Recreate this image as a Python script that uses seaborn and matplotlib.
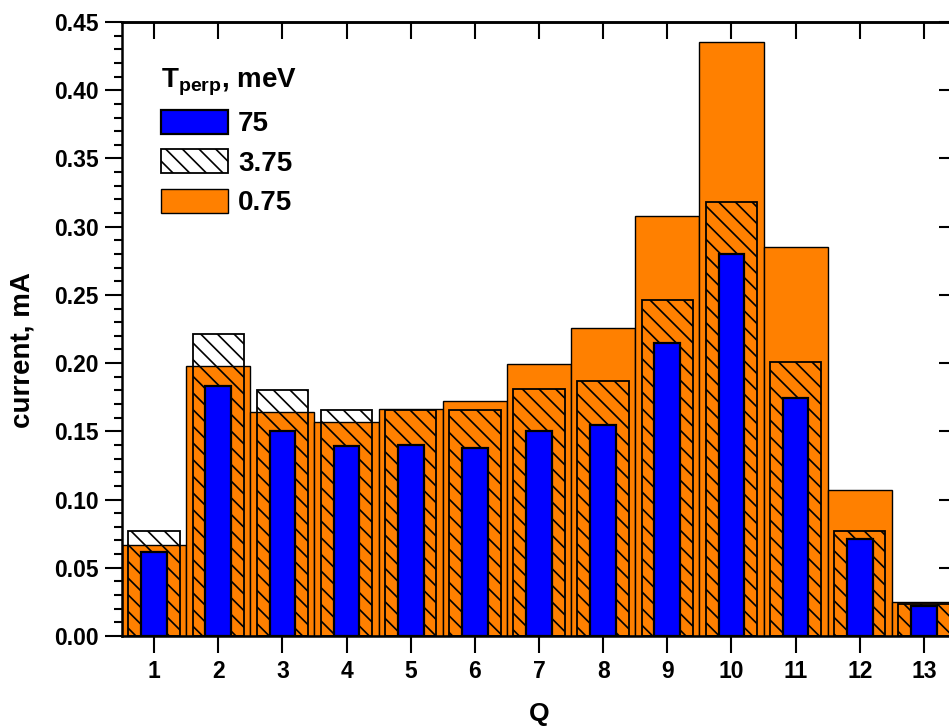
import matplotlib
matplotlib.use("Agg")
import matplotlib.pyplot as plt
import seaborn as sns
import pandas as pd
from matplotlib.ticker import MultipleLocator, FormatStrFormatter

# charge state
Q = [1, 2, 3, 4, 5, 6, 7, 8, 9, 10, 11, 12, 13]
# current, mA for each T_perp
cur_075 = [0.067, 0.198, 0.164, 0.157, 0.1665, 0.1725, 0.199, 0.226, 0.308, 0.435, 0.285, 0.107, 0.0247]
cur_375 = [0.077, 0.2215, 0.180, 0.166, 0.166, 0.1655, 0.181, 0.187, 0.2465, 0.318, 0.201, 0.077, 0.0232]
cur_75 = [0.0616, 0.1835, 0.1505, 0.1395, 0.140, 0.138, 0.150, 0.155, 0.215, 0.280, 0.1745, 0.071, 0.022]
labels = ["75", "3.75", "0.75"]

sns.set_style("white")
plt.rcParams['font.family'] = ['Liberation Sans', 'DejaVu Sans']
plt.rcParams['font.weight'] = 'bold'
plt.rcParams['mathtext.fontset'] = 'custom'
plt.rcParams['mathtext.rm'] = 'Liberation Sans:bold'
plt.rcParams['mathtext.bf'] = 'Liberation Sans:bold'
plt.rcParams['hatch.linewidth'] = 1.2
for k in ['text.color', 'axes.labelcolor', 'xtick.color', 'ytick.color', 'axes.edgecolor']:
    plt.rcParams[k] = 'black'

df = pd.DataFrame({"Q": Q, "c075": cur_075, "c375": cur_375, "c75": cur_75})

fig = plt.figure(figsize=(9.49, 7.28), dpi=100)
W, H = 949, 728
ax = fig.add_axes([122 / W, (H - 636) / H, (956 - 122) / W, (636 - 22) / H])

sns.barplot(data=df, x="Q", y="c075", native_scale=True, width=1.0, color="#FF8000",
            saturation=1, edgecolor="black", linewidth=1.0, errorbar=None, ax=ax, label=labels[2])
n0 = len(ax.patches)
sns.barplot(data=df, x="Q", y="c375", native_scale=True, width=0.8, color="white",
            saturation=1, edgecolor="black", linewidth=1.3, errorbar=None, ax=ax, label=labels[1])
for p in ax.patches[n0:]:
    p.set_facecolor("none")
    p.set_hatch("\\\\")
sns.barplot(data=df, x="Q", y="c75", native_scale=True, width=0.4, color="#0000FF",
            saturation=1, edgecolor="black", linewidth=1.6, errorbar=None, ax=ax, label=labels[0])

ax.set_xlim(0.5, 13.5)
ax.set_ylim(0, 0.45)
ax.set_xticks(Q)
ax.set_xticklabels([str(q) for q in Q])
ax.yaxis.set_major_locator(MultipleLocator(0.05))
ax.yaxis.set_minor_locator(MultipleLocator(0.01))
ax.yaxis.set_major_formatter(FormatStrFormatter("%.2f"))
ax.tick_params(axis="both", which="major", direction="out", length=12, width=1.5,
               labelsize=16.5, pad=5, left=True, bottom=True)
ax.tick_params(axis="y", which="minor", direction="out", length=6, width=1.5, left=True)
ax.tick_params(axis="x", which="minor", bottom=False)
for s in ax.spines.values():
    s.set_linewidth(1.8)
    s.set_color("black")

top = ax.secondary_xaxis("top")
top.set_xticks(Q)
top.set_xticklabels([])
top.tick_params(direction="in", length=12, width=1.5, top=True)
top.spines["top"].set_linewidth(1.8)
right = ax.secondary_yaxis("right")
right.yaxis.set_major_locator(MultipleLocator(0.05))
right.set_yticklabels([])
right.tick_params(direction="in", length=12, width=1.5, right=True)

ax.set_xlabel("Q", fontsize=19, fontweight="bold", labelpad=14)
ax.set_ylabel("current, mA", fontsize=20, fontweight="bold")
ax.yaxis.set_label_coords(-0.104, 0.466)

h, l = ax.get_legend_handles_labels()
order = [l.index(x) for x in labels]
leg = ax.legend([h[i] for i in order], [l[i] for i in order],
                title=r"$\mathbf{T_{perp}}$, meV", loc="upper left",
                bbox_to_anchor=(0.047, 0.927), frameon=False, fontsize=20,
                title_fontproperties={"size": 20, "weight": "bold"},
                handlelength=2.4, handleheight=0.97, handletextpad=0.36,
                labelspacing=0.42, borderpad=0, borderaxespad=0, alignment="left")
for t in leg.get_texts():
    t.set_fontweight("bold")

fig.savefig("out.png", dpi=100)
